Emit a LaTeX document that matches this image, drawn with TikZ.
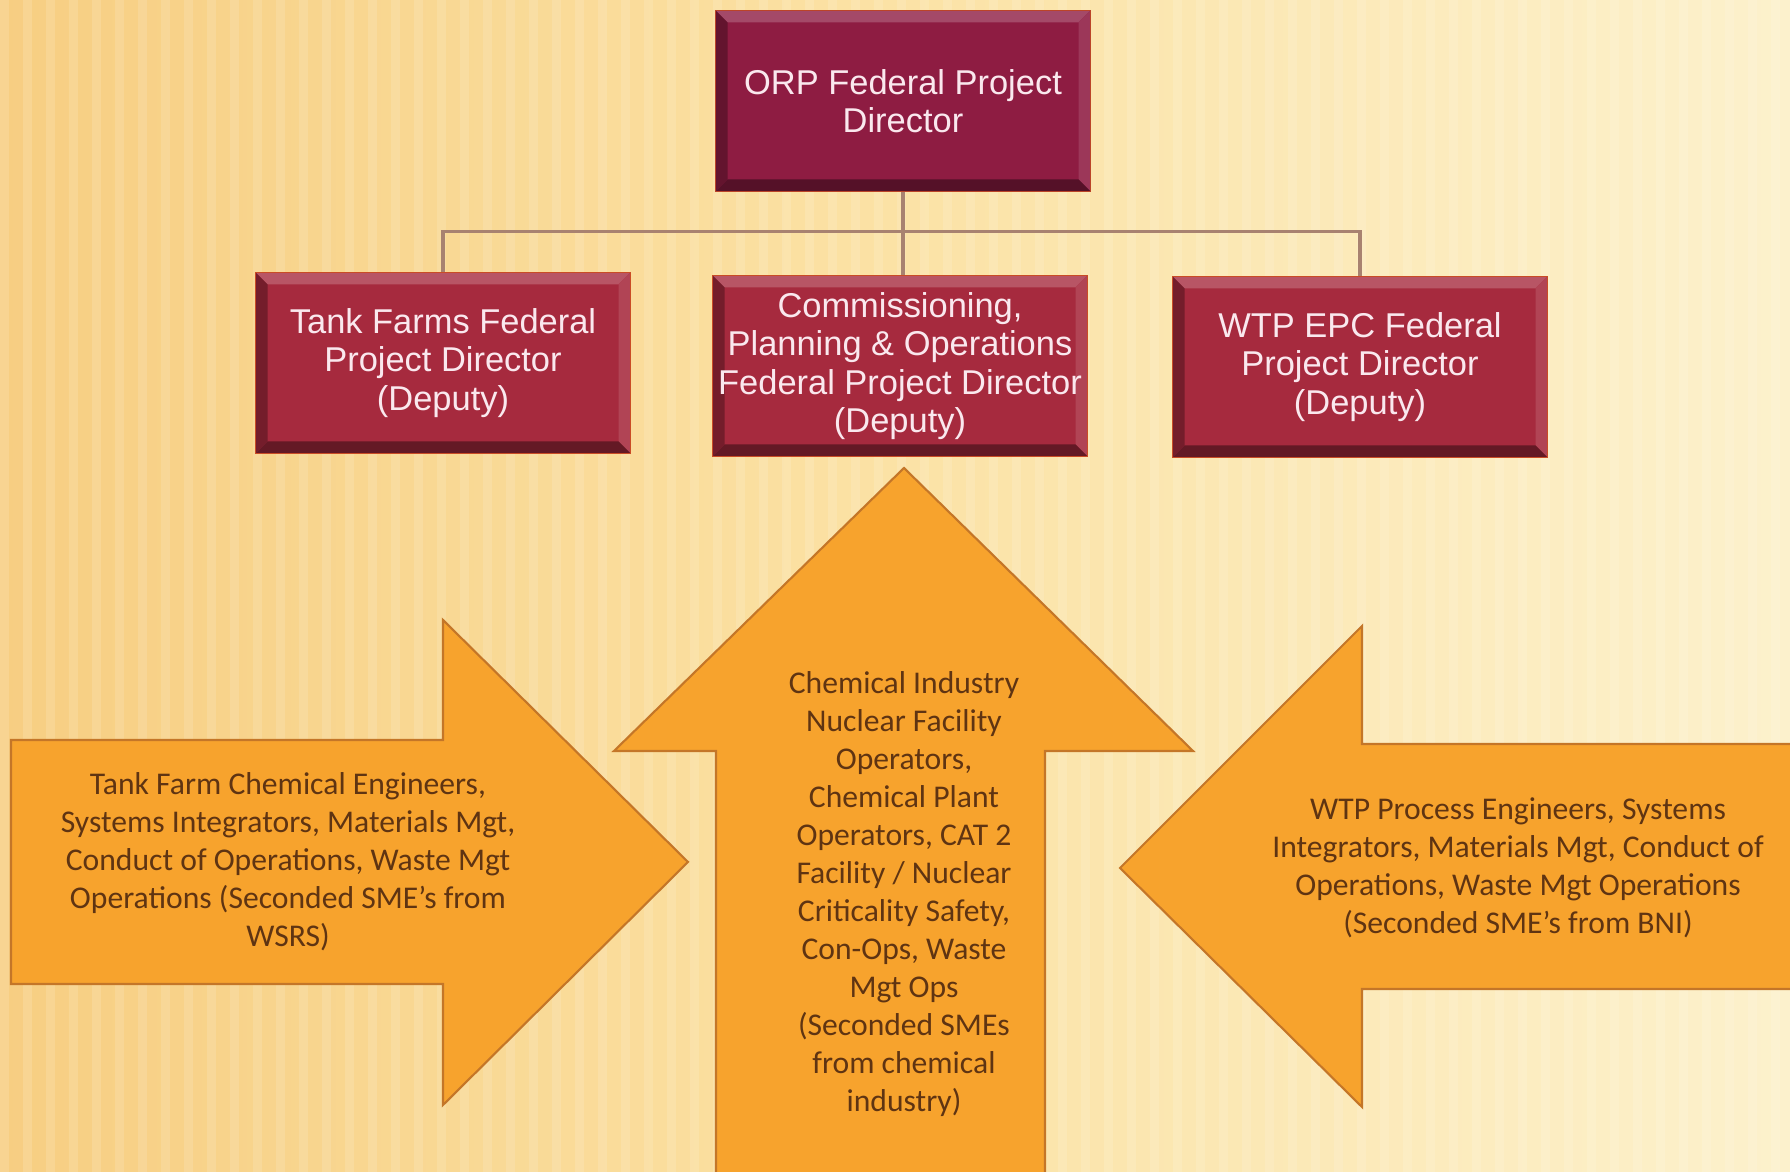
\documentclass[tikz,border=0pt]{standalone}
\usepackage{fontspec}
\setmainfont{Carlito}
\newfontfamily\boxfont{Liberation Sans}
\usetikzlibrary{calc,positioning}

\definecolor{bgwarm}{RGB}{247,206,130}
\definecolor{bgmid}{RGB}{251,226,165}
\definecolor{bgpale}{RGB}{252,241,204}
\definecolor{orpred}{RGB}{142,28,66}
\definecolor{fpdred}{RGB}{166,42,62}
\definecolor{arrfill}{RGB}{247,163,45}
\definecolor{arredge}{RGB}{196,118,40}
\definecolor{arrtext}{RGB}{95,52,18}
\definecolor{linkcol}{RGB}{168,130,112}
\definecolor{boxtext}{RGB}{250,232,238}

% Bevelled edge of a director box, drawn inside the node.
\newcommand{\dirbevel}[1]{%
  \coordinate (bnw) at (path picture bounding box.north west);
  \coordinate (bne) at (path picture bounding box.north east);
  \coordinate (bse) at (path picture bounding box.south east);
  \coordinate (bsw) at (path picture bounding box.south west);
  \coordinate (inw) at ($(bnw)+(1.2mm,-1.2mm)$);
  \coordinate (ine) at ($(bne)+(-1.2mm,-1.2mm)$);
  \coordinate (ise) at ($(bse)+(-1.2mm,1.2mm)$);
  \coordinate (isw) at ($(bsw)+(1.2mm,1.2mm)$);
  \fill[#1!80!white] (bnw) -- (bne) -- (ine) -- (inw) -- cycle;
  \fill[#1!88!white] (bne) -- (bse) -- (ise) -- (ine) -- cycle;
  \fill[#1!60!black] (bse) -- (bsw) -- (isw) -- (ise) -- cycle;
  \fill[#1!70!black] (bsw) -- (bnw) -- (inw) -- (isw) -- cycle;
}

\tikzset{
  dirbox/.style={rectangle, fill=#1, draw=#1!60!orange, line width=0.4pt,
    minimum width=37.5mm, minimum height=18.1mm,
    inner sep=0pt, align=center, text=boxtext,
    font=\boxfont\fontsize{9.8}{10.9}\selectfont,
    path picture={\dirbevel{#1}}},
  link/.style={draw=linkcol, line width=0.9pt},
  bigarrow/.style={fill=arrfill, draw=arredge, line width=0.6pt, line join=miter},
  armtext/.style={align=center, text=arrtext, font=\fontsize{9}{10.8}\selectfont}
}

\begin{document}
\begin{tikzpicture}[x=0.1mm, y=-0.1mm]

    % Background.
    \clip (0,0) rectangle (1790,1172);
    \shade[left color=bgwarm, right color=bgpale, middle color=bgmid] (0,0) rectangle (1790,1172);
    \foreach \sx in {0,23,...,1790}
        \fill[white, opacity=0.13] (\sx,0) rectangle ++(9,1172);

    % Director boxes.
    \node[dirbox=orpred] (orp) at (903,101) {ORP Federal Project\\Director};
    \node[dirbox=fpdred] (tf)  at (443,363) {Tank Farms Federal\\Project Director\\(Deputy)};
    \node[dirbox=fpdred] (cpo) at (900,366) {Commissioning,\\Planning \& Operations\\Federal Project Director\\(Deputy)};
    \node[dirbox=fpdred] (wtp) at (1360,367) {WTP EPC Federal\\Project Director\\(Deputy)};

    % Reporting lines.
    \draw[link] (orp.south) -- (orp.south |- cpo.north);
    \draw[link] (tf.north) -- ++(0,-40) -| (wtp.north);

    % Left arrow.
    \draw[bigarrow] (11,740) -- (443,740) -- (443,620) -- (688,862)
        -- (443,1105) -- (443,984) -- (11,984) -- cycle;
    \node[armtext] (tfsme) at (288,862) {Tank Farm Chemical Engineers,\\Systems Integrators, Materials Mgt,\\Conduct of Operations, Waste Mgt\\Operations (Seconded SME’s from\\WSRS)};

    % Middle arrow.
    \draw[bigarrow] (716,1185) -- (716,751) -- (614,751) -- (904,468)
        -- (1193,751) -- (1045,751) -- (1045,1185);
    \node[armtext] (chemsme) at (904,894) {Chemical Industry\\Nuclear Facility\\Operators,\\Chemical Plant\\Operators, CAT 2\\Facility / Nuclear\\Criticality Safety,\\Con-Ops, Waste\\Mgt Ops\\(Seconded SMEs\\from chemical\\industry)};

    % Right arrow.
    \draw[bigarrow] (1800,744) -- (1362,744) -- (1362,626) -- (1120,868)
        -- (1362,1107) -- (1362,989) -- (1800,989);
    \node[armtext] (wtpsme) at (1518,868) {WTP Process Engineers, Systems\\Integrators, Materials Mgt, Conduct of\\Operations, Waste Mgt Operations\\(Seconded SME’s from BNI)};

\end{tikzpicture}
\end{document}
